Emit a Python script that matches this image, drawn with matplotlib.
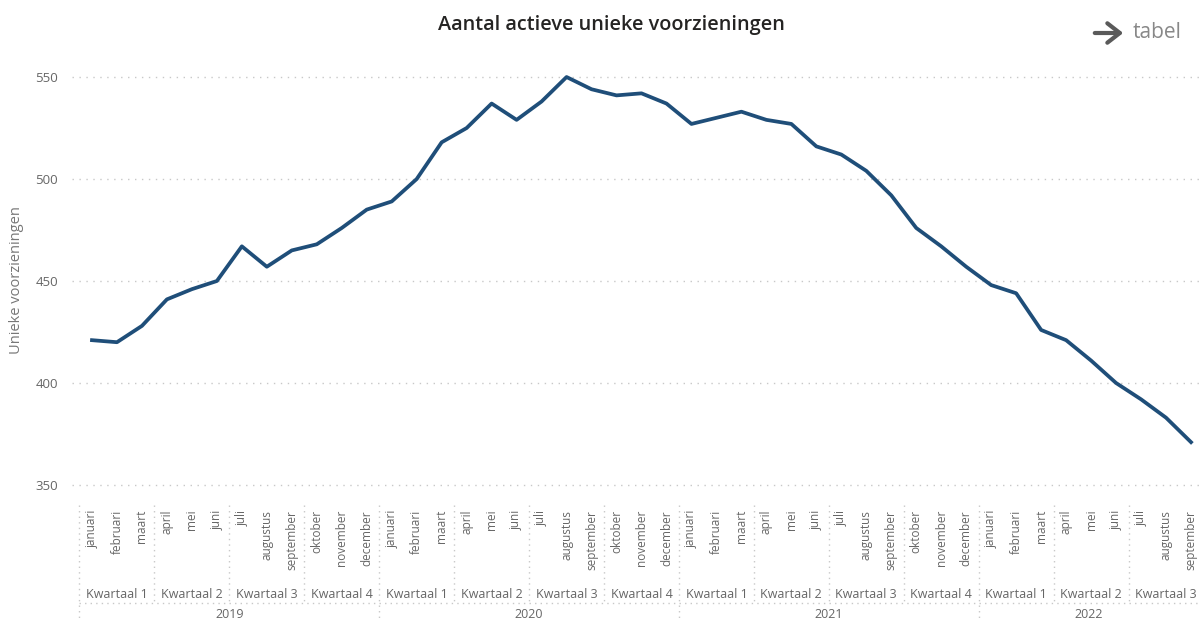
import matplotlib.pyplot as plt
import matplotlib.transforms as mtransforms

plt.rcParams['font.family'] = ['Open Sans', 'DejaVu Sans']

months = ["januari", "februari", "maart", "april", "mei", "juni", "juli",
          "augustus", "september", "oktober", "november", "december"]
years = [2019, 2020, 2021, 2022]
quarters = ["Kwartaal 1", "Kwartaal 2", "Kwartaal 3", "Kwartaal 4"]

# jan 2019 .. sep 2022
values = [421, 420, 428, 441, 446, 450, 467, 457, 465, 468, 476, 485,
          489, 500, 518, 525, 537, 529, 538, 550, 544, 541, 542, 537,
          527, 530, 533, 529, 527, 516, 512, 504, 492, 476, 467, 457,
          448, 444, 426, 421, 411, 400, 392, 383, 371]

n = len(values)
month_labels = [months[i % 12] for i in range(n)]
X = list(range(n))

W, H = 1199, 621
fig = plt.figure(figsize=(W / 100, H / 100), dpi=100)
ax = fig.add_axes([72 / W, 1 - 495.2 / H, (W - 72) / W, (495.2 - 60.7) / H])

ax.plot(X, values, color='#1F4E79', linewidth=2.7, solid_joinstyle='round')
ax.set_xlim(-0.8, 44.32)
ax.set_ylim(345, 558)
ax.set_yticks([350, 400, 450, 500, 550])
ax.yaxis.grid(True, linestyle=(0, (1, 4)), color='#c8c8c8', linewidth=1)
ax.set_xticks([])
ax.tick_params(axis='y', length=0, pad=10, labelsize=9.5, labelcolor='#666666')
for s in ax.spines.values():
    s.set_visible(False)

# hierarchical x axis: month / quarter / year
tr = mtransforms.blended_transform_factory(ax.transData, fig.transFigure)
def fy(px):
    return 1 - px / H

sep = dict(color='#c8c8c8', linestyle=(0, (1, 3)), linewidth=1, transform=tr, clip_on=False)
for i, m in enumerate(month_labels):
    ax.text(i, fy(510), m, rotation=90, ha='center', va='top', fontsize=8.5,
            color='#666666', transform=tr)
    if i % 3 == 0:
        q = quarters[(i % 12) // 3]
        ax.text(i + 1, fy(594), q, ha='center', va='center', fontsize=9,
                color='#666666', transform=tr)
        y_end = 621 if i % 12 == 0 else 603
        ax.plot([i - 0.5, i - 0.5], [fy(505), fy(y_end)], **sep)

for k, yr in enumerate(years):
    start = k * 12 - 0.5
    end = min(start + 12, 44.32)
    ax.text((start + end) / 2, fy(615), str(yr), ha='center', va='center',
            fontsize=9, color='#666666', transform=tr)

ax.plot([-0.5, 44.32], [fy(603), fy(603)], **sep)

fig.text(611 / W, fy(25), "Aantal actieve unieke voorzieningen", ha='center',
         va='center', fontsize=14.3, fontweight='semibold', color='#252423')
fig.text(17 / W, fy(280), "Unieke voorzieningen", rotation=90, ha='center',
         va='center', fontsize=10.5, color='#777777')

ax.annotate("", xy=(1126, H - 33), xytext=(1092, H - 33), xycoords='figure pixels',
            textcoords='figure pixels',
            arrowprops=dict(arrowstyle='->,head_length=0.9,head_width=0.7',
                            color='#5a5a5a', lw=3))
fig.text(1133 / W, fy(33), "tabel", ha='left', va='center', fontsize=15,
         color='#888888')

fig.savefig('out.png', dpi=100)
